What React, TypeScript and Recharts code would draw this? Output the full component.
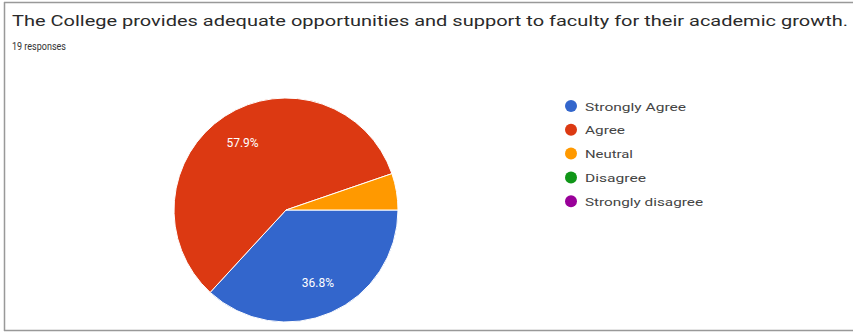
import React from "react";
import { PieChart, Pie, Cell } from "recharts";

const categories = ["Strongly Agree", "Agree", "Neutral", "Disagree", "Strongly disagree"];
const responses = [7, 11, 1, 0, 0];
const colors = ["#3366cc", "#dc3912", "#ff9900", "#109618", "#990099"];
// rendered widths of the legend labels in the reference
const legendWidths = [101, 40, 48, 61, 118];

const title = "The College provides adequate opportunities and support to faculty for their academic growth.";
const subtitle = "19 responses";

const data = categories.map((name, i) => ({ name, value: responses[i] }));

const RADIAN = Math.PI / 180;

function renderLabel(props: any) {
  const { cx, cy, midAngle, outerRadius, percent } = props;
  if (percent < 0.1) return null;
  const r = outerRadius * 0.71;
  const x = cx + r * Math.cos(-midAngle * RADIAN);
  const y = cy + r * Math.sin(-midAngle * RADIAN);
  return (
    <text
      x={x}
      y={y}
      fill="#fff"
      fontSize={12}
      textAnchor="middle"
      dominantBaseline="central"
      fontFamily="Roboto, Arial, sans-serif"
    >
      {(percent * 100).toFixed(1)}%
    </text>
  );
}

export default function App() {
  return (
    <div style={{ position: "absolute", left: 0, top: 0, width: 853, height: 333, background: "#fff" }}>
      <div style={{ position: "absolute", left: 0, top: 0 }}>
        <PieChart width={853} height={333} margin={{ top: 0, right: 0, bottom: 0, left: 0 }}>
          <Pie
            data={data}
            dataKey="value"
            nameKey="name"
            cx={286}
            cy={210}
            outerRadius={112}
            startAngle={0}
            endAngle={-360}
            stroke="#fff"
            strokeWidth={1}
            label={renderLabel}
            labelLine={false}
            isAnimationActive={false}
          >
            {data.map((d, i) => (
              <Cell key={d.name} fill={colors[i]} />
            ))}
          </Pie>
        </PieChart>
      </div>
      <svg
        width={853}
        height={333}
        style={{ position: "absolute", left: 0, top: 0, pointerEvents: "none" }}
      >
        <line x1={4.5} y1={2} x2={4.5} y2={331} stroke="#999" strokeWidth={1.5} />
        <line x1={4} y1={2.5} x2={853} y2={2.5} stroke="#999" strokeWidth={1.5} />
        <line x1={4} y1={330.5} x2={853} y2={330.5} stroke="#999" strokeWidth={1.5} />
        <text
          x={12}
          y={26}
          fontSize={15.5}
          fill="#2a2a2a"
          fontFamily="Roboto, Arial, sans-serif"
          textLength={836}
          lengthAdjust="spacingAndGlyphs"
        >
          {title}
        </text>
        <text
          x={12}
          y={50}
          fontSize={10.5}
          fill="#333"
          fontFamily="Roboto, Arial, sans-serif"
          textLength={54}
          lengthAdjust="spacingAndGlyphs"
        >
          {subtitle}
        </text>
        {categories.map((c, i) => (
          <g key={c}>
            <circle cx={571} cy={106 + i * 23.8} r={6} fill={colors[i]} />
            <text
              x={585}
              y={110.5 + i * 23.8}
              fontSize={11.5}
              fill="#444"
              fontFamily="Roboto, Arial, sans-serif"
              textLength={legendWidths[i]}
              lengthAdjust="spacingAndGlyphs"
            >
              {c}
            </text>
          </g>
        ))}
      </svg>
    </div>
  );
}
